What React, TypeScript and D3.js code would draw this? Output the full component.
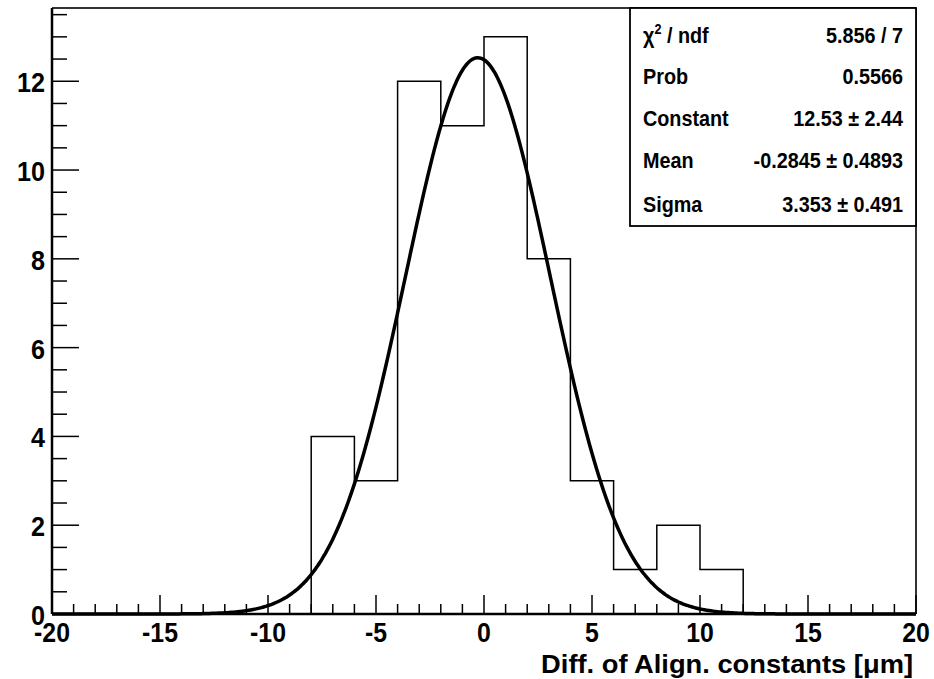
import React from "react";
import * as d3 from "d3";

const binEdgesLow = [-20, -18, -16, -14, -12, -10, -8, -6, -4, -2, 0, 2, 4, 6, 8, 10, 12, 14, 16, 18];
const binCounts = [0, 0, 0, 0, 0, 0, 4, 3, 12, 11, 13, 8, 3, 1, 2, 1, 0, 0, 0, 0];
const binWidth = 2;
const fitConstant = 12.53;
const fitMean = -0.2845;
const fitSigma = 3.353;
const xMajorTicks = [-20, -15, -10, -5, 0, 5, 10, 15, 20];
const yMajorTicks = [0, 2, 4, 6, 8, 10, 12];
const statLabels = ["χ² / ndf", "Prob", "Constant", "Mean", "Sigma"];
const statValues = ["5.856 / 7", "0.5566", "12.53 ± 2.44", "-0.2845 ± 0.4893", "3.353 ± 0.491"];
const xTitle = "Diff. of Align. constants [μm]";

const W = 934;
const H = 679;
const L = 52, R = 916, T = 8, B = 614;

export default function App() {
  const x = d3.scaleLinear().domain([-20, 20]).range([L, R]);
  const y = d3.scaleLinear().domain([0, 13.65]).range([B, T]);

  const pts: [number, number][] = [];
  binEdgesLow.forEach((lo, i) => {
    pts.push([lo, binCounts[i]]);
    pts.push([lo + binWidth, binCounts[i]]);
  });
  const histLine = d3.line<[number, number]>().x((d) => x(d[0])).y((d) => y(d[1]));
  const histPath = histLine([[binEdgesLow[0], 0], ...pts, [binEdgesLow[binEdgesLow.length - 1] + binWidth, 0]]);

  const gaussX = d3.range(-20, 20.001, 0.1);
  const gauss = (v: number) => fitConstant * Math.exp(-0.5 * ((v - fitMean) / fitSigma) ** 2);
  const curve = d3.line<number>().x((v) => x(v)).y((v) => y(gauss(v))).curve(d3.curveMonotoneX)(gaussX);

  const xMinor = d3.range(-20, 20.001, 1).filter((v) => Math.round(v) % 5 !== 0);
  const yMinor = d3.range(0, 13.6, 0.5).filter((v) => v % 2 !== 0);

  const font = "'Liberation Sans', Arial, sans-serif";
  const boxL = 630, boxT = 8, boxR = 916, boxB = 226;
  const rowY = [35, 76, 118, 160, 204];

  return (
    <svg width={W} height={H} style={{ position: "absolute", left: 0, top: 0, background: "#fff" }}>
      <rect x={0} y={0} width={W} height={H} fill="#fff" />
      <line x1={L} y1={T} x2={R} y2={T} stroke="#333" strokeWidth={2} />
      <line x1={R} y1={T} x2={R} y2={B} stroke="#333" strokeWidth={2} />
      <path d={histPath || ""} fill="none" stroke="#000" strokeWidth={1.5} />
      <path d={curve || ""} fill="none" stroke="#000" strokeWidth={3.5} strokeLinejoin="round" />
      <line x1={L} y1={B} x2={R} y2={B} stroke="#000" strokeWidth={2.5} />
      <line x1={L} y1={T} x2={L} y2={B} stroke="#000" strokeWidth={2.5} />
      {xMajorTicks.map((v) => (
        <line key={"xM" + v} x1={x(v)} x2={x(v)} y1={B} y2={B - 19} stroke="#000" strokeWidth={1.5} />
      ))}
      {xMinor.map((v) => (
        <line key={"xm" + v} x1={x(v)} x2={x(v)} y1={B} y2={B - 10} stroke="#000" strokeWidth={1.5} />
      ))}
      {yMajorTicks.map((v) => (
        <line key={"yM" + v} x1={L} x2={L + 27} y1={y(v)} y2={y(v)} stroke="#000" strokeWidth={1.5} />
      ))}
      {yMinor.map((v) => (
        <line key={"ym" + v} x1={L} x2={L + 15} y1={y(v)} y2={y(v)} stroke="#000" strokeWidth={1.5} />
      ))}
      {xMajorTicks.map((v) => (
        <text
          key={"xl" + v}
          transform={`translate(${x(v)},642) scale(0.92,1)`}
          textAnchor="middle"
          fontFamily={font}
          fontWeight="bold"
          fontSize={27}
        >
          {v}
        </text>
      ))}
      {yMajorTicks.map((v) => (
        <text
          key={"yl" + v}
          transform={`translate(45,${y(v) + 11}) scale(0.9,1)`}
          textAnchor="end"
          fontFamily={font}
          fontWeight="bold"
          fontSize={28}
        >
          {v}
        </text>
      ))}
      <text
        transform={`translate(913,673) scale(1.03,1)`}
        textAnchor="end"
        fontFamily={font}
        fontWeight="bold"
        fontSize={26.5}
      >
        {xTitle}
      </text>
      <rect x={boxL} y={boxT} width={boxR - boxL} height={boxB - boxT} fill="#fff" stroke="#000" strokeWidth={1.8} />
      {statLabels.map((s, i) => (
        <text
          key={"sl" + i}
          transform={`translate(643,${rowY[i] + 8}) scale(0.9,1)`}
          fontFamily={font}
          fontWeight="bold"
          fontSize={22}
        >
          {i === 0 ? (
            <>
              χ<tspan fontSize={14} dy={-9}>2</tspan>
              <tspan dy={9}> / ndf</tspan>
            </>
          ) : (
            s
          )}
        </text>
      ))}
      {statValues.map((s, i) => (
        <text
          key={"sv" + i}
          transform={`translate(903,${rowY[i] + 8}) scale(0.9,1)`}
          textAnchor="end"
          fontFamily={font}
          fontWeight="bold"
          fontSize={22}
        >
          {s}
        </text>
      ))}
    </svg>
  );
}
